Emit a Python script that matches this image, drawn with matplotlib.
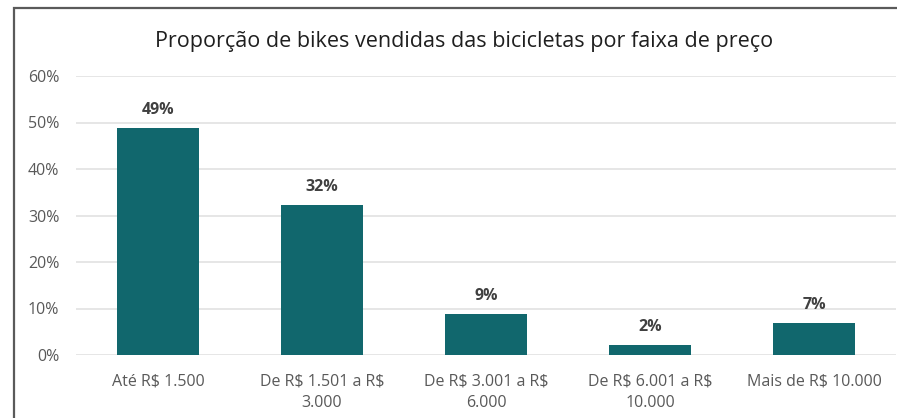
import matplotlib
matplotlib.use("Agg")
import matplotlib.pyplot as plt
from matplotlib.patches import Rectangle
from matplotlib.ticker import PercentFormatter

plt.rcParams['font.family'] = ['Open Sans', 'DejaVu Sans']
plt.rcParams['text.parse_math'] = False

# dados
faixas = ["Até R$ 1.500", "De R$ 1.501 a R$\n3.000", "De R$ 3.001 a R$\n6.000",
          "De R$ 6.001 a R$\n10.000", "Mais de R$ 10.000"]
proporcao = [0.488, 0.323, 0.088, 0.022, 0.069]
yticks = [0, 0.1, 0.2, 0.3, 0.4, 0.5, 0.6]

W, H = 897, 418
fig = plt.figure(figsize=(W / 100, H / 100), dpi=100)

# moldura cinza (cortada a direita e embaixo)
fig.patches.append(Rectangle((14 / W, -0.1), 1.2, (H - 8) / H + 0.1,
                             transform=fig.transFigure, fill=False,
                             edgecolor="#5a5a5a", linewidth=1.6))

ax = fig.add_axes([76 / W, 63 / H, 820 / W, (355 - 76) / H])
x = range(len(faixas))
bars = ax.bar(x, proporcao, width=0.5, color="#11676D", zorder=3)

for b, v in zip(bars, proporcao):
    ax.text(b.get_x() + b.get_width() / 2, v + 0.022, f"{v:.0%}",
            ha="center", va="bottom", fontsize=11.5, fontweight="bold", color="#404040")

ax.set_ylim(0, 0.6)
ax.set_xlim(-0.5, len(faixas) - 0.5)
ax.set_yticks(yticks)
ax.yaxis.set_major_formatter(PercentFormatter(1.0, decimals=0))
ax.set_xticks(list(x))
ax.set_xticklabels(faixas, fontsize=11.5, color="#595959", linespacing=1.5)
ax.tick_params(axis="y", labelsize=11.5, labelcolor="#595959", length=0, pad=12)
ax.tick_params(axis="x", length=0, pad=13)
ax.grid(axis="y", color="#e2e2e2", linewidth=1.2, zorder=0)
for s in ax.spines.values():
    s.set_visible(False)

fig.text(464 / W, (H - 41) / H, "Proporção de bikes vendidas das bicicletas por faixa de preço",
         ha="center", va="center", fontsize=15.5, color="#1f1f1f")

fig.savefig("out.png", dpi=100)
